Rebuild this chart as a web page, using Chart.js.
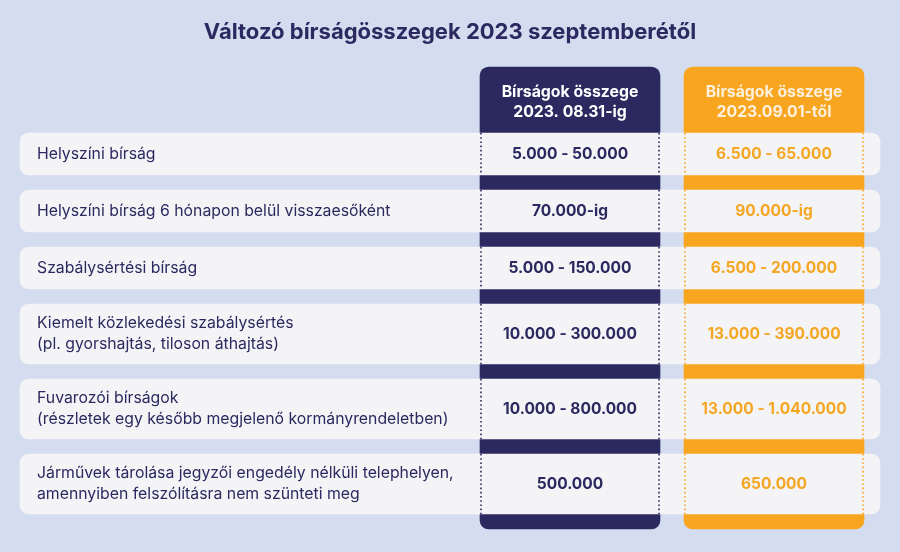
<!DOCTYPE html>
<html lang="hu">
<head>
    <meta charset="UTF-8">
    <title>Változó bírságösszegek 2023 szeptemberétől</title>
    <script src="https://cdn.jsdelivr.net/npm/chart.js"></script>
    <style>
        html, body { margin: 0; padding: 0; background: #d4ddf0; }
        canvas { display: block; }
    </style>
</head>
<body>
    <canvas id="fineChart" width="900" height="552"></canvas>
    <script>
        // Table content
        const chartTitle = 'Változó bírságösszegek 2023 szeptemberétől';
        const columnHeaders = [
            ['Bírságok összege', '2023. 08.31-ig'],
            ['Bírságok összege', '2023.09.01-től']
        ];
        const rowLabels = [
            ['Helyszíni bírság'],
            ['Helyszíni bírság 6 hónapon belül visszaesőként'],
            ['Szabálysértési bírság'],
            ['Kiemelt közlekedési szabálysértés', '(pl. gyorshajtás, tiloson áthajtás)'],
            ['Fuvarozói bírságok', '(részletek egy később megjelenő kormányrendeletben)'],
            ['Járművek tárolása jegyzői engedély nélküli telephelyen,', 'amennyiben felszólításra nem szünteti meg']
        ];
        const oldFines = ['5.000 - 50.000', '70.000-ig', '5.000 - 150.000', '10.000 - 300.000', '10.000 - 800.000', '500.000'];
        const newFines = ['6.500 - 65.000', '90.000-ig', '6.500 - 200.000', '13.000 - 390.000', '13.000 - 1.040.000', '650.000'];

        // Layout (scale units = canvas pixels)
        const W = 900, H = 552;
        const tableSpan = [20, 880];
        const columnSpans = [[480, 660], [684, 864]];
        const columnTop = 67;
        const firstRowTop = 133;
        const rowGap = 15;
        const lineStep = 21;
        const navy = '#2c2960';
        const orange = '#f8a51f';
        const rowFill = '#f4f4f6';
        const font = 'Inter, "Noto Sans", sans-serif';

        let cursor = firstRowTop;
        const rowBoxes = rowLabels.map(lines => {
            const h = lines.length > 1 ? 60 : 42;
            const box = { top: cursor, bottom: cursor + h, mid: cursor + h / 2, h: h };
            cursor += h + rowGap;
            return box;
        });
        const columnBottom = cursor;

        const columnColors = [navy, orange];
        const headerColors = ['#ffffff', '#fdf0dc'];
        const valueColors = [navy, '#f5a623'];
        const values = [oldFines, newFines];

        const datasets = [];

        // column backgrounds
        columnSpans.forEach((span, i) => {
            datasets.push({
                type: 'bar',
                indexAxis: 'x',
                data: [{ x: (span[0] + span[1]) / 2, y: [columnTop, columnBottom] }],
                barThickness: span[1] - span[0],
                backgroundColor: columnColors[i],
                borderRadius: 9,
                borderSkipped: false,
                grouped: false,
                order: 3
            });
        });

        // row backgrounds
        rowBoxes.forEach(box => {
            datasets.push({
                type: 'bar',
                indexAxis: 'y',
                data: [{ y: box.mid, x: tableSpan }],
                barThickness: box.h,
                backgroundColor: rowFill,
                borderRadius: 9,
                borderSkipped: false,
                grouped: false,
                order: 2
            });
        });

        // dotted column edges inside each row
        columnSpans.forEach((span, i) => {
            [span[0] + 1, span[1] - 1].forEach(edge => {
                const pts = [];
                rowBoxes.forEach(box => {
                    pts.push({ x: edge, y: box.top }, { x: edge, y: box.bottom }, { x: edge, y: null });
                });
                datasets.push({
                    type: 'line',
                    data: pts,
                    borderColor: columnColors[i],
                    borderWidth: 1.6,
                    borderDash: [1.6, 2.6],
                    pointRadius: 0,
                    spanGaps: false,
                    order: 1
                });
            });
        });

        const textPlugin = {
            id: 'tableText',
            afterDatasetsDraw(chart) {
                const ctx = chart.ctx;
                const xs = chart.scales.x, ys = chart.scales.y;
                ctx.save();
                ctx.textBaseline = 'middle';

                ctx.textAlign = 'center';
                ctx.fillStyle = navy;
                ctx.font = 'bold 22px ' + font;
                ctx.fillText(chartTitle, xs.getPixelForValue(W / 2), ys.getPixelForValue(32));

                columnSpans.forEach((span, i) => {
                    const cx = xs.getPixelForValue((span[0] + span[1]) / 2);
                    ctx.font = 'bold 15.8px ' + font;
                    ctx.fillStyle = headerColors[i];
                    columnHeaders[i].forEach((line, j) => {
                        ctx.fillText(line, cx, ys.getPixelForValue(92 + j * 20));
                    });
                    ctx.font = 'bold 15.5px ' + font;
                    ctx.fillStyle = valueColors[i];
                    values[i].forEach((v, r) => {
                        ctx.fillText(v, cx, ys.getPixelForValue(rowBoxes[r].mid));
                    });
                });

                ctx.textAlign = 'left';
                ctx.fillStyle = navy;
                ctx.font = '15.8px ' + font;
                rowLabels.forEach((lines, r) => {
                    const start = rowBoxes[r].mid - (lines.length - 1) * lineStep / 2;
                    lines.forEach((line, j) => {
                        ctx.fillText(line, xs.getPixelForValue(37), ys.getPixelForValue(start + j * lineStep));
                    });
                });
                ctx.restore();
            }
        };

        new Chart(document.getElementById('fineChart'), {
            type: 'bar',
            data: { datasets: datasets },
            options: {
                responsive: false,
                animation: false,
                events: [],
                layout: { padding: 0 },
                plugins: { legend: { display: false }, tooltip: { enabled: false } },
                scales: {
                    x: { type: 'linear', min: 0, max: W, offset: false, display: false },
                    y: { type: 'linear', min: 0, max: H, reverse: true, offset: false, display: false }
                }
            },
            plugins: [textPlugin]
        });
    </script>
</body>
</html>
